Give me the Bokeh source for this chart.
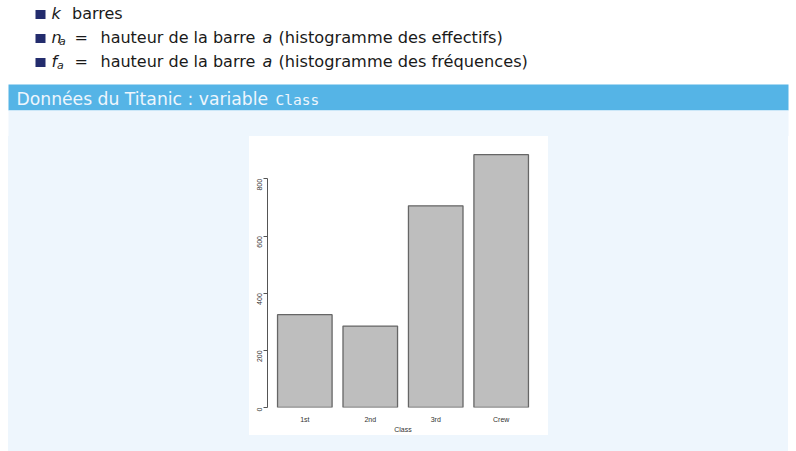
import math
from bokeh.plotting import figure
from bokeh.layouts import column, row
from bokeh.models import (FactorRange, Range1d, LinearAxis, CategoricalAxis, FixedTicker, Spacer)
from bokeh.core.properties import value
from bokeh.embed import file_html
from bokeh.resources import INLINE

# ---- data ----
classes = ["1st", "2nd", "3rd", "Crew"]
counts = [325, 285, 706, 885]
y_ticks = [0, 200, 400, 600, 800]
x_title = "Class"
block_title = "Données du Titanic : variable "
block_title_code = "Class"

W, H = 796, 451
BLUE_BAR = "#55B4E6"
BLUE_BODY = "#EEF6FD"
NAVY = "#232C6D"
INK = "#1A1A1A"

IMG_L, IMG_T, IMG_R, IMG_B = 249, 136, 548, 435   # R graphic area (page px)
FL, FR, FT, FB = 267, 538, 145, 409               # plot region (page px)

# ---- header (bullets + block title), drawn in page pixel coordinates ----
head = figure(width=W, height=IMG_T,
              x_range=Range1d(0, W), y_range=Range1d(IMG_T, 0),
              output_backend="svg", toolbar_location=None,
              x_axis_location=None, y_axis_location=None,
              min_border=0, min_border_left=0, min_border_right=0,
              min_border_top=0, min_border_bottom=0)
head.outline_line_color = None
head.background_fill_color = "white"
head.border_fill_color = "white"
for g in head.grid:
    g.visible = False


def rect(l, t, r, b, color):
    head.quad(left=l, right=r, top=t, bottom=b, fill_color=color, line_color=None)


def txt(X, baseline, s, size, font="DejaVu Sans", style="normal", color=INK):
    # bokeh places this text about 0.35 em below the given y; compensate
    head.text(x=[X], y=[baseline - 0.35 * size], text=[s], text_font=value(font),
              text_font_size=value(f"{size}px"), text_font_style=style,
              text_color=color, text_baseline="alphabetic", text_align="left")


rect(8, 84, 788, 110, BLUE_BAR)
rect(8, 110, 788, IMG_T + 10, BLUE_BODY)
for top in (9.5, 33.5, 57.5):
    rect(35, top, 45, top + 9, NAVY)

FS, SUB = 16, 11
txt(51, 18.5, "k", FS, style="italic")
txt(71.5, 18.5, "barres", FS)
for base, sym, subx in ((42.5, "n", 58.5), (66.5, "f", 56.5)):
    txt(51, base, sym, FS, style="italic")
    txt(subx, base + 2.5, "a", SUB, style="italic")
    txt(74, base, "=", FS)
    txt(100, base, "hauteur de la barre", FS)
    txt(262, base, "a", FS, style="italic")
txt(278, 42.5, "(histogramme des effectifs)", 16.2)
txt(278, 66.5, "(histogramme des fréquences)", 16.2)
txt(16, 104.5, block_title, 17.2, color=BLUE_BODY)
txt(275, 104.5, block_title_code, 14.5, font="DejaVu Sans Mono", color=BLUE_BODY)

# ---- side fillers (plain page background) ----
left = Spacer(width=IMG_L, height=H - IMG_T,
              styles={"background": f"linear-gradient(to right, white 8px, {BLUE_BODY} 8px)"})
right = Spacer(width=W - IMG_R, height=H - IMG_T,
               styles={"background": f"linear-gradient(to right, {BLUE_BODY} {788 - IMG_R}px, white {788 - IMG_R}px)"})
strip = Spacer(width=IMG_R - IMG_L, height=H - IMG_B,
               styles={"background": BLUE_BODY})

# ---- the bar chart ----
p = figure(width=IMG_R - IMG_L, height=IMG_B - IMG_T,
           x_range=FactorRange(*classes, factor_padding=0.2,
                               range_padding=0.184, range_padding_units="absolute"),
           y_range=Range1d(0, 917),
           output_backend="svg", toolbar_location=None,
           x_axis_location=None, y_axis_location=None,
           min_border_left=FL - IMG_L, min_border_right=IMG_R - FR,
           min_border_top=FT - IMG_T, min_border_bottom=IMG_B - FB)
p.outline_line_color = None
p.background_fill_color = "white"
p.border_fill_color = "white"
for g in p.grid:
    g.visible = False

p.vbar(x=classes, top=counts, width=1.0, fill_color="#BEBEBE",
       line_color="#666666", line_width=1.3)

yax = LinearAxis(ticker=FixedTicker(ticks=y_ticks), bounds=(0, 800),
                 major_label_orientation=math.pi / 2,
                 major_tick_out=4, major_tick_in=0,
                 minor_tick_line_color=None,
                 axis_line_color="#555555", major_tick_line_color="#555555",
                 major_label_text_font="Liberation Sans",
                 major_label_text_font_size="7px",
                 major_label_text_color="#333333",
                 major_label_standoff=4)
p.add_layout(yax, "left")

xax = CategoricalAxis(axis_line_color=None, major_tick_line_color=None,
                      major_tick_out=0, major_tick_in=0,
                      minor_tick_line_color=None,
                      major_label_text_font="Liberation Sans",
                      major_label_text_font_size="7px",
                      major_label_text_color="#333333",
                      major_label_standoff=8,
                      axis_label=x_title,
                      axis_label_text_font="Liberation Sans",
                      axis_label_text_font_size="7px",
                      axis_label_text_font_style="normal",
                      axis_label_text_color="#333333",
                      axis_label_standoff=0)
p.add_layout(xax, "below")

layout = column(head, row(left, column(p, strip), right))
open("out.html", "w").write(file_html(layout, INLINE))
